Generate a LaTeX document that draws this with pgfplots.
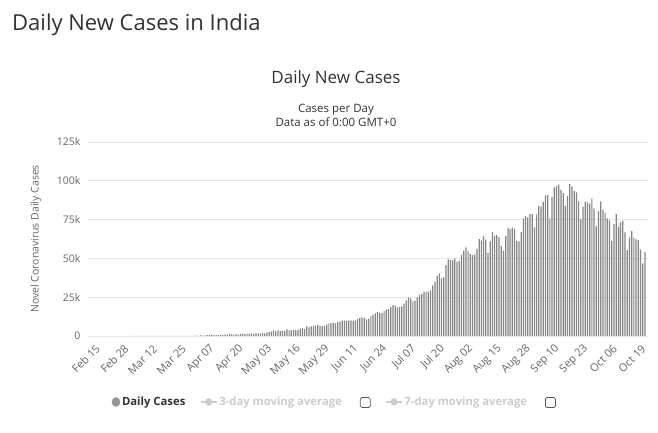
\documentclass[border=0pt]{standalone}
\usepackage{fontspec}
\setmainfont{Open Sans}
\usepackage{pgfplots}
\usepackage{pgfplotstable}
\pgfplotsset{compat=1.18}
\definecolor{bargray}{HTML}{858585}
\definecolor{dotgray}{HTML}{959595}
\definecolor{gridgray}{HTML}{E6E6E6}
\definecolor{ticktext}{HTML}{666666}
\definecolor{titletext}{HTML}{333333}
\definecolor{hidden}{HTML}{CCCCCC}
\definecolor{boxgray}{HTML}{555555}
\pgfplotstableread{
x y
17 0
18 2
19 1
20 22
21 2
22 1
23 3
24 5
25 4
26 13
27 6
28 11
29 9
30 20
31 11
32 6
33 23
34 14
35 38
36 50
37 86
38 66
39 103
40 37
41 121
42 70
43 160
44 100
45 106
46 227
47 146
48 437
49 235
50 478
51 525
52 505
53 704
54 508
55 485
56 591
57 896
58 768
59 918
60 905
61 1463
62 1118
63 826
64 1061
65 922
66 1371
67 1580
68 1239
69 1537
70 1292
71 1667
72 1408
73 1835
74 1607
75 1568
76 1902
77 1705
78 2396
79 2564
80 2952
81 3656
82 2971
83 3602
84 3344
85 3339
86 3175
87 4311
88 3592
89 3562
90 3726
91 3991
92 3808
93 4794
94 5049
95 4630
96 6147
97 5553
98 6198
99 6568
100 6629
101 7111
102 6414
103 6387
104 6566
105 7467
106 7964
107 8380
108 8392
109 8171
110 8909
111 9304
112 9851
113 9887
114 9971
115 9983
116 9987
117 9985
118 9996
119 10956
120 11458
121 11929
122 11502
123 10667
124 10974
125 12881
126 13586
127 14516
128 15413
129 14821
130 14933
131 15968
132 16922
133 17296
134 18552
135 19906
136 19459
137 18522
138 18653
139 19148
140 20903
141 22771
142 24850
143 24248
144 22252
145 22752
146 24879
147 26506
148 27114
149 28637
150 28701
151 28498
152 29429
153 32695
154 34956
155 38902
156 40425
157 37148
158 37724
159 45720
160 49310
161 48916
162 48661
163 49931
164 47703
165 48513
166 52123
167 55079
168 57118
169 54735
170 52972
171 52050
172 52509
173 56282
174 62538
175 61537
176 64399
177 62064
178 53601
179 60963
180 66999
181 64553
182 65002
183 63490
184 57981
185 55079
186 64531
187 69652
188 68898
189 69878
190 69239
191 61408
192 60975
193 67151
194 75760
195 77266
196 76472
197 78761
198 78512
199 69921
200 78357
201 83883
202 83341
203 86432
204 90633
205 90802
206 75809
207 89706
208 95735
209 96551
210 97570
211 94372
212 92071
213 83809
214 90123
215 97894
216 96424
217 93337
218 92605
219 86961
220 75083
221 83347
222 86508
223 86052
224 85362
225 88600
226 82170
227 70589
228 80472
229 86821
230 81484
231 79476
232 75829
233 74442
234 61267
235 72049
236 78524
237 70496
238 73272
239 74383
240 66732
241 55342
242 63509
243 67708
244 63371
245 62212
246 61871
247 55722
248 46790
249 54044
}\dailycases
\newcommand{\checkbox}{\tikz[baseline=-3pt]\draw[boxgray,line width=0.7pt,rounded corners=1.5pt] (0,-5pt) rectangle (10pt,5pt);}
\begin{document}
\begin{tikzpicture}
\path[use as bounding box, fill=white] (0pt,0pt) rectangle (658pt,433pt);
\node[anchor=west, inner sep=0pt, text=titletext, font=\fontsize{22}{26}\selectfont] at (12pt,408pt) {Daily New Cases in India};
\node[inner sep=0pt, text=titletext, font=\fontsize{17}{20}\selectfont] at (336pt,354pt) {Daily New Cases};
\node[inner sep=0pt, text=titletext, align=center, font=\fontsize{11.5}{14}\selectfont] at (336pt,318pt) {Cases per Day\\Data as of 0:00 GMT+0};
\begin{axis}[
  at={(88pt,97pt)}, anchor=south west,
  scale only axis, width=560pt, height=194pt,
  xmin=-3, xmax=250.4, ymin=0, ymax=125000,
  axis line style={draw=none},
  tick style={draw=none},
  ymajorgrids, grid style={gridgray, line width=0.8pt},
  scaled y ticks=false,
  ytick={0,25000,50000,75000,100000,125000},
  yticklabels={0,25k,50k,75k,100k,125k},
  yticklabel style={text=ticktext, font=\fontsize{10.5}{12}\selectfont, xshift=-4pt},
  xtick={0,13,26,39,52,65,78,91,104,117,130,143,156,169,182,195,208,221,234,247},
  xticklabels={Feb 15,Feb 28,Mar 12,Mar 25,Apr 07,Apr 20,May 03,May 16,May 29,Jun 11,Jun 24,Jul 07,Jul 20,Aug 02,Aug 15,Aug 28,Sep 10,Sep 23,Oct 06,Oct 19},
  xticklabel style={text=ticktext, font=\fontsize{11}{12}\selectfont, rotate=45, anchor=east, yshift=-10pt, xshift=-2pt},
  ylabel={Novel Coronavirus Daily Cases},
  ylabel style={text=ticktext, font=\fontsize{10.5}{12}\selectfont, at={(axis description cs:-0.093,0.5)}, anchor=center},
  legend columns=3,
  legend style={at={(0.037,-0.34)}, anchor=west, draw=none, fill=none, font=\fontsize{11.3}{13}\selectfont\bfseries,
    /tikz/every even column/.append style={column sep=13pt}},
  legend image post style={xscale=0.9},
]
\addplot[ybar, bar width=0.55, bar shift=0pt, fill=bargray, draw=none, forget plot] table[x=x,y=y] {\dailycases};
\addlegendimage{only marks, mark=*, mark size=4.5pt, dotgray}
\addlegendentry{\textcolor{titletext}{Daily Cases}}
\addlegendimage{hidden, line width=1.5pt, mark=*, mark size=3pt}
\addlegendentry{\textcolor{hidden}{3-day moving average}\hspace{18pt}\checkbox}
\addlegendimage{hidden, line width=1.5pt, mark=*, mark size=3pt}
\addlegendentry{\textcolor{hidden}{7-day moving average}\hspace{18pt}\checkbox}
\end{axis}
\end{tikzpicture}
\end{document}
